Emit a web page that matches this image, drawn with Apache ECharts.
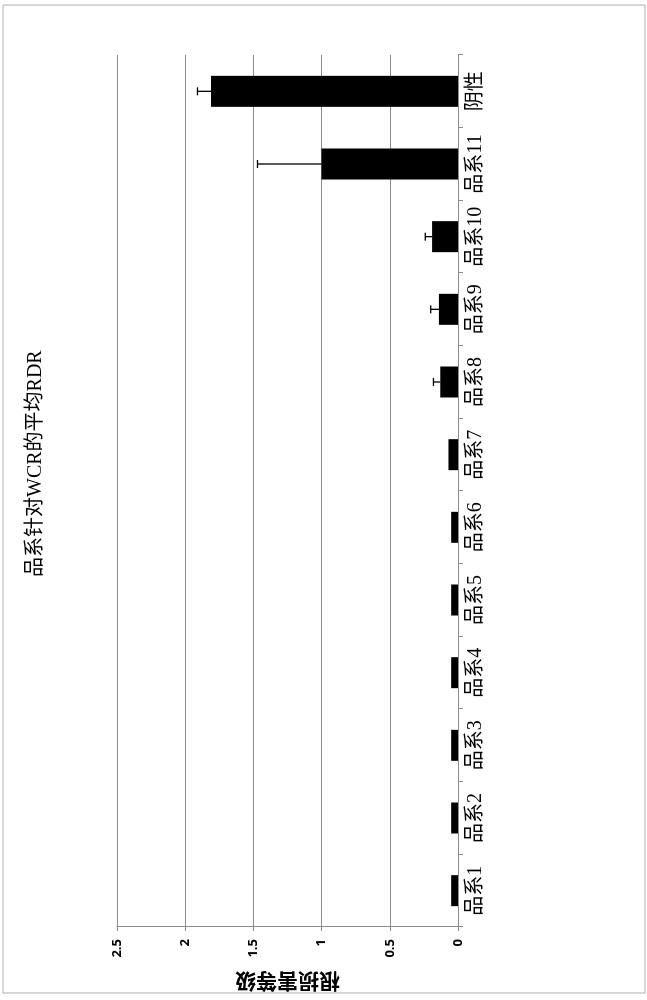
<!DOCTYPE html>
<html>
<head>
<meta charset="utf-8">
<script src="https://cdn.jsdelivr.net/npm/echarts@6/dist/echarts.min.js"></script>
<style>
  html, body { margin: 0; padding: 0; background: #fff; }
  body { width: 647px; height: 1000px; overflow: hidden; position: relative; }
  /* chart is drawn upright then turned a quarter left, like the scan */
  #chart {
    position: absolute; left: 0; top: 0;
    width: 1000px; height: 647px;
    transform-origin: 0 0;
    transform: translate(0, 1000px) rotate(-90deg);
  }
</style>
</head>
<body>
<div id="chart"></div>
<script>
var titleText = '品系针对WCR的平均RDR';
var yName = '根损害等级';
var categories = ['品系1', '品系2', '品系3', '品系4', '品系5', '品系6', '品系7', '品系8', '品系9', '品系10', '品系11', '阴性'];
var rdrMean = [0.05, 0.05, 0.05, 0.05, 0.05, 0.05, 0.07, 0.13, 0.14, 0.19, 1.0, 1.81];
var rdrErr  = [0, 0, 0, 0, 0, 0, 0, 0.05, 0.06, 0.05, 0.47, 0.10];

var serif = "'Liberation Serif', 'Noto Sans CJK SC', serif";
var gridColor = '#8c8c8c';

// only bars with an error value get a whisker
var errData = [];
for (let i = 0; i < categories.length; i++) {
    if (rdrErr[i] > 0) errData.push([i, rdrMean[i], rdrMean[i] + rdrErr[i]]);
}

var chart = echarts.init(document.getElementById('chart'));
var option = {
    animation: false,
    backgroundColor: '#fff',
    title: {
        text: titleText,
        left: 418,
        top: 21,
        textStyle: { fontFamily: serif, fontSize: 20, fontWeight: 'normal', color: '#000' }
    },
    graphic: [{
        type: 'rect',
        shape: { x: 7, y: 3, width: 988, height: 642 },
        style: { fill: 'none', stroke: '#b0b0b0', lineWidth: 1 },
        silent: true
    }],
    grid: { left: 73, right: 55, top: 117, bottom: 189 },
    xAxis: {
        type: 'category',
        data: categories,
        axisLine: { show: true, lineStyle: { color: gridColor, width: 1 } },
        axisTick: { show: true, length: 5, lineStyle: { color: gridColor } },
        axisLabel: { fontFamily: serif, fontSize: 20, color: '#000', margin: 8, interval: 0 }
    },
    yAxis: {
        type: 'value',
        min: 0,
        max: 2.5,
        interval: 0.5,
        name: yName,
        nameLocation: 'middle',
        nameGap: 44,
        nameTextStyle: { fontFamily: "'Noto Sans CJK SC', sans-serif", fontSize: 21, fontWeight: 'bold', color: '#000' },
        axisLine: { show: true, lineStyle: { color: gridColor, width: 1 } },
        axisTick: { show: true, length: 4, lineStyle: { color: gridColor } },
        axisLabel: { fontFamily: "'Open Sans', sans-serif", fontSize: 13, fontWeight: 'bold', color: '#000', margin: 12 },
        splitLine: { show: true, lineStyle: { color: gridColor, width: 1.2 } }
    },
    series: [
        {
            name: 'RDR',
            type: 'bar',
            data: rdrMean,
            barWidth: 31,
            itemStyle: { color: '#000' }
        },
        {
            name: 'err',
            type: 'custom',
            data: errData,
            z: 3,
            renderItem: function (params, api) {
                let base = api.coord([api.value(0), api.value(1)]);
                let top = api.coord([api.value(0), api.value(2)]);
                let cap = 4;
                let st = { stroke: '#000', lineWidth: 1.3 };
                return {
                    type: 'group',
                    children: [
                        { type: 'line', shape: { x1: base[0], y1: base[1], x2: top[0], y2: top[1] }, style: st },
                        { type: 'line', shape: { x1: top[0] - cap, y1: top[1], x2: top[0] + cap, y2: top[1] }, style: st }
                    ]
                };
            }
        }
    ]
};
chart.setOption(option);
</script>
</body>
</html>
